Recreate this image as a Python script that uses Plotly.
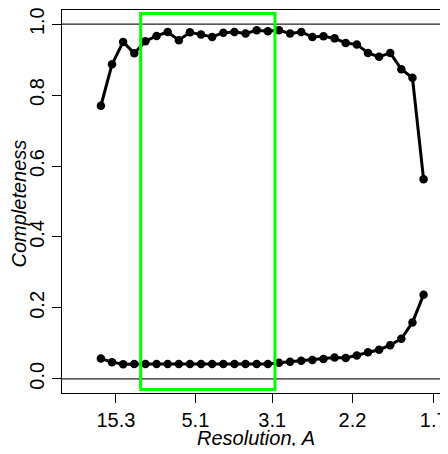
import plotly.graph_objects as go

# x = 1/d (inverse resolution) for each bin
inv_res = [0.0406, 0.0589, 0.0772, 0.0955, 0.1139, 0.1322, 0.1505, 0.1688, 0.1871, 0.2054,
           0.2237, 0.2420, 0.2603, 0.2786, 0.2969, 0.3152, 0.3336, 0.3519, 0.3702, 0.3885,
           0.4068, 0.4251, 0.4434, 0.4617, 0.4800, 0.4983, 0.5166, 0.5349, 0.5532, 0.5715]

completeness_high = [0.770, 0.887, 0.950, 0.918, 0.952, 0.967, 0.978, 0.955, 0.977, 0.971,
                     0.964, 0.976, 0.978, 0.974, 0.983, 0.980, 0.983, 0.974, 0.978, 0.964,
                     0.966, 0.960, 0.947, 0.943, 0.919, 0.908, 0.919, 0.873, 0.849, 0.563]

completeness_low = [0.057, 0.047, 0.041, 0.042, 0.042, 0.042, 0.042, 0.042, 0.042, 0.042,
                    0.042, 0.042, 0.042, 0.042, 0.042, 0.042, 0.045, 0.048, 0.051, 0.053,
                    0.056, 0.060, 0.059, 0.066, 0.075, 0.082, 0.095, 0.113, 0.159, 0.237]

tick_labels = ["15.3", "5.1", "3.1", "2.2", "1.7"]
tick_vals = [1.0 / float(t) for t in tick_labels]

y_ticks = [0.0, 0.2, 0.4, 0.6, 0.8, 1.0]
y_tick_labels = ["0.0", "0.2", "0.4", "0.6", "0.8", "1.0"]

x_title = "Resolution, A"
y_title = "Completeness"

sel_x = [0.106, 0.327]
sel_y = [-0.03, 1.03]

font_family = "Liberation Sans, Arial, sans-serif"
FS = 20

fig = go.Figure()
for ys in (completeness_high, completeness_low):
    fig.add_trace(go.Scatter(
        x=inv_res, y=ys, mode="lines+markers",
        line=dict(color="black", width=3),
        marker=dict(color="black", size=8.5),
        showlegend=False, cliponaxis=False))

for yv in (0.0, 1.0):
    fig.add_shape(type="line", xref="paper", yref="y", x0=0, x1=1, y0=yv, y1=yv,
                  line=dict(color="#222", width=1.2), layer="below")

fig.add_shape(type="rect", xref="x", yref="y", x0=sel_x[0], x1=sel_x[1],
              y0=sel_y[0], y1=sel_y[1], line=dict(color="#00ff00", width=3))

fig.add_annotation(text="<i>%s</i>" % x_title, xref="paper", yref="paper", x=0.5, y=0,
                   xanchor="center", yanchor="middle", xshift=2, yshift=-45,
                   showarrow=False, font=dict(size=FS))
fig.add_annotation(text="<i>%s</i>" % y_title, xref="paper", yref="paper", x=0, y=0.5,
                   xanchor="center", yanchor="middle", xshift=-44, yshift=-2,
                   textangle=-90, showarrow=False, font=dict(size=FS))

# page body has an 8px margin; figure sized so that no scrollbars appear
fig.update_layout(
    width=440, height=438,
    margin=dict(l=54, r=2, t=2, b=53),
    paper_bgcolor="white", plot_bgcolor="white",
    font=dict(family=font_family, size=FS, color="black"),
)
fig.update_xaxes(
    range=[-0.0234, 0.6084], tickvals=tick_vals, ticktext=tick_labels,
    showgrid=False, zeroline=False, showline=True, mirror=True, automargin=False,
    linecolor="black", linewidth=1, ticks="outside", ticklen=9, tickcolor="black",
    tickfont=dict(size=FS), ticklabeloverflow="allow",
)
fig.update_yaxes(
    range=[-0.04, 1.04], tickvals=y_ticks, ticktext=y_tick_labels,
    tickangle=-90,
    showgrid=False, zeroline=False, showline=True, mirror=True, automargin=False,
    linecolor="black", linewidth=1, ticks="outside", ticklen=9, tickcolor="black",
    tickfont=dict(size=FS), ticklabeloverflow="allow",
)

fig.write_html("out.html", config={"responsive": False})
